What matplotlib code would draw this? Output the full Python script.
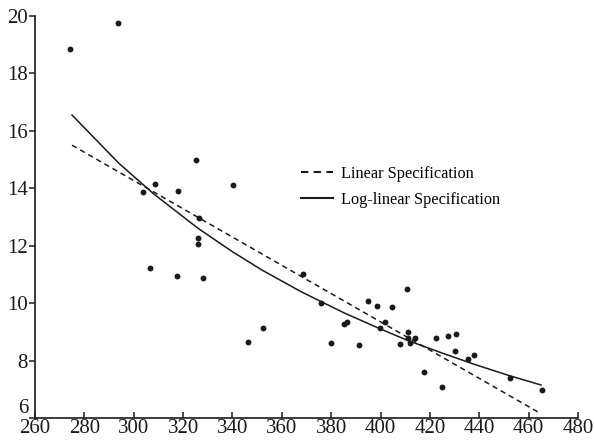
import matplotlib
matplotlib.use("Agg")
import matplotlib.pyplot as plt

plt.rcParams['font.family'] = ['Liberation Serif', 'DejaVu Serif']

# scatter data
x_pts = [274.2, 293.6, 303.8, 308.6, 306.6, 317.9, 317.5, 325.2, 326.4, 326.0, 326.0, 328.1,
         340.2, 346.3, 352.4, 368.5, 375.8, 379.8, 385.3, 386.5, 391.4, 394.8, 398.6, 399.8,
         401.9, 404.8, 407.8, 410.6, 411.3, 411.1, 411.9, 413.8, 417.6, 422.6, 424.8, 427.2,
         430.6, 430.0, 435.6, 438.0, 452.5, 465.6]
y_pts = [18.85, 19.75, 13.87, 14.15, 11.23, 13.9, 10.94, 14.98, 12.96, 12.27, 12.06, 10.87,
         14.1, 8.64, 9.13, 11.01, 9.99, 8.62, 9.27, 9.33, 8.55, 10.09, 9.91, 9.12,
         9.33, 9.87, 8.58, 10.48, 8.98, 8.79, 8.61, 8.79, 7.59, 8.8, 7.07, 8.87,
         8.94, 8.34, 8.07, 8.19, 7.41, 6.97]

# fitted lines
lin_x = [275, 465]
lin_y = [15.5, 6.15]
log_x = [275, 294, 308, 326, 340, 352, 368, 385, 400, 411, 425, 438, 452, 465]
log_y = [16.55, 14.87, 13.81, 12.61, 11.79, 11.15, 10.39, 9.67, 9.10, 8.70, 8.26, 7.87, 7.48, 7.15]

x_ticks = [260, 280, 300, 320, 340, 360, 380, 400, 420, 440, 460, 480]
y_ticks = [6, 8, 10, 12, 14, 16, 18, 20]

fig = plt.figure(figsize=(5.94, 4.4), dpi=100)
ax = fig.add_axes([35/594, 1-418/440, (578-35)/594, (418-16)/440])

c = '#1a1a1a'
ax.scatter(x_pts, y_pts, s=18, color=c, zorder=3, linewidths=0)
ax.plot(lin_x, lin_y, linestyle=(0, (3.5, 2.6)), color=c, lw=1.1, label='Linear Specification')
ax.plot(log_x, log_y, linestyle='-', color=c, lw=1.1, label='Log-linear Specification')

ax.set_xlim(260, 480)
ax.set_ylim(6, 20)
ax.set_xticks(x_ticks)
ax.set_yticks(y_ticks)
for s in ['top', 'right']:
    ax.spines[s].set_visible(False)
for s in ['left', 'bottom']:
    ax.spines[s].set_linewidth(1.2)
    ax.spines[s].set_color(c)
ax.tick_params(axis='x', direction='in', length=4, width=1.1, labelsize=15, colors=c, pad=1)
ax.tick_params(axis='y', direction='out', length=4, width=1.1, labelsize=15, colors=c, pad=1)
fig.canvas.draw()
ylabels = ax.get_yticklabels()
ylabels[0].set_verticalalignment('bottom')

leg = ax.legend(loc='upper left', bbox_to_anchor=(301/594, 1-166/440), bbox_transform=fig.transFigure,
                frameon=False, fontsize=11.7, handlelength=1.95, handletextpad=0.5, labelspacing=0.62,
                borderaxespad=0, borderpad=0)
for h in leg.legend_handles:
    h.set_linewidth(1.5)

fig.savefig('out.png', dpi=100)
